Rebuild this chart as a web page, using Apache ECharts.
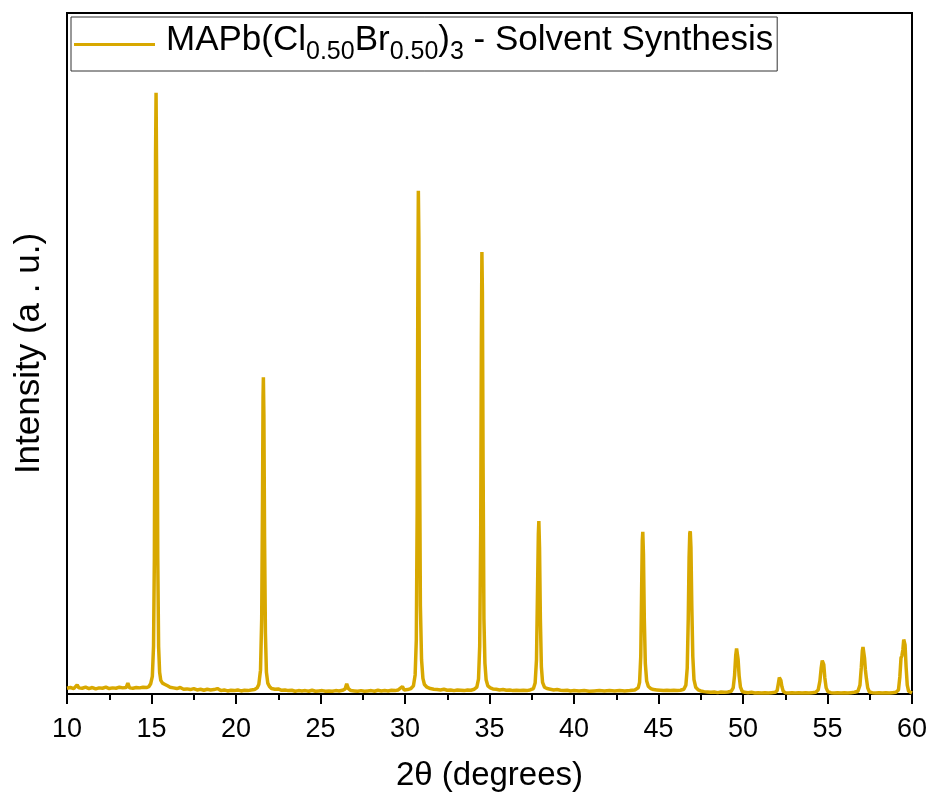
<!DOCTYPE html>
<html>
<head>
<meta charset="utf-8">
<script src="https://cdn.jsdelivr.net/npm/echarts@6/dist/echarts.min.js"></script>
<style>
html,body{margin:0;padding:0;background:#fff;}
#chart{width:935px;height:797px;}
</style>
</head>
<body>
<div id="chart"></div>
<script>
// 2θ positions (degrees) of the measured pattern points
const twoTheta = [
10.0,10.2,10.4,10.6,10.7,10.9,11.1,11.3,11.5,11.7,11.9,12.1,12.3,12.5,12.7,12.9,13.1,13.3,13.5,13.6,13.7,13.9,14.1,14.3,14.5,14.7,14.85,
14.95,15.05,15.12,15.17,15.21,15.24,15.27,15.30,15.33,15.37,15.42,15.48,15.55,15.65,15.8,15.95,16.1,16.3,16.5,16.7,16.9,17.1,17.3,17.5,17.7,17.9,18.1,18.3,18.5,18.7,18.9,19.1,19.3,19.5,19.7,19.9,20.1,20.3,20.5,20.7,20.9,21.1,21.25,
21.35,21.45,21.52,21.57,21.60,21.62,21.65,21.69,21.74,21.8,21.88,21.98,22.1,22.3,22.5,22.7,22.9,23.1,23.3,23.5,23.7,23.9,24.1,24.3,24.5,24.7,24.9,25.1,25.3,25.5,25.7,25.9,26.1,26.3,26.45,26.55,26.65,26.8,27.0,27.2,27.4,27.6,27.8,28.0,28.2,28.4,28.6,28.8,29.0,29.2,29.4,29.6,29.85,29.95,30.15,30.35,30.5,
30.6,30.67,30.72,30.76,30.79,30.82,30.86,30.91,30.98,31.06,31.15,31.3,31.5,31.7,31.9,32.1,32.3,32.5,32.7,32.9,33.1,33.3,33.5,33.7,33.9,34.1,34.25,
34.35,34.42,34.48,34.52,34.55,34.58,34.62,34.67,34.73,34.8,34.9,35.05,35.2,35.4,35.6,35.8,36.0,36.2,36.4,36.6,36.8,37.0,37.2,37.4,37.6,
37.7,37.78,37.84,37.89,37.92,37.96,38.01,38.07,38.14,38.25,38.4,38.6,38.8,39.0,39.2,39.4,39.6,39.8,40.0,40.3,40.6,40.9,41.2,41.5,41.8,42.1,42.4,42.7,43.0,43.3,43.6,43.8,
43.88,43.95,44.0,44.04,44.07,44.11,44.16,44.22,44.3,44.4,44.55,44.7,44.9,45.1,45.3,45.5,45.7,45.9,46.1,46.3,46.5,46.62,
46.7,46.76,46.81,46.85,46.88,46.92,46.97,47.03,47.1,47.2,47.35,47.5,47.7,47.9,48.1,48.3,48.5,48.7,48.9,49.1,49.3,
49.42,49.5,49.57,49.62,49.66,49.71,49.77,49.85,49.95,50.1,50.3,50.5,50.7,50.9,51.1,51.3,51.5,51.7,51.9,52.02,
52.09,52.15,52.19,52.24,52.3,52.38,52.5,52.7,52.9,53.1,53.3,53.5,53.7,53.9,54.1,54.3,54.45,
54.55,54.63,54.69,54.73,54.78,54.84,54.92,55.02,55.2,55.4,55.6,55.8,56.0,56.2,56.4,56.6,56.8,
56.92,57.0,57.06,57.1,57.14,57.19,57.24,57.3,57.38,57.48,57.65,57.85,58.05,58.25,58.45,58.65,58.85,59.05,59.2,
59.28,59.35,59.4,59.46,59.51,59.55,59.59,59.65,59.72,59.8,59.9,60.0
];
// intensity (a.u.)
const intensity = [
0.85,0.95,0.8,1.35,0.9,0.85,1.0,0.8,0.95,0.75,0.9,0.85,1.0,0.8,0.9,0.85,1.0,0.9,0.95,1.6,0.9,0.85,0.95,0.9,1.0,0.95,1.1,
1.5,2.6,7,20,50,79,88.3,77,47,20,7,3.2,2.0,1.6,1.4,1.2,1.0,0.9,0.8,0.95,0.7,0.75,0.65,0.8,0.6,0.7,0.55,0.7,0.6,0.65,0.8,0.5,0.6,0.45,0.55,0.5,0.6,0.45,0.55,0.5,0.6,0.65,0.9,
1.4,3.5,11,29,43.5,46.5,41,23,9,3.2,1.6,1.1,0.8,0.7,0.75,0.55,0.6,0.5,0.55,0.4,0.5,0.45,0.5,0.4,0.55,0.4,0.45,0.5,0.4,0.45,0.4,0.5,0.45,0.55,0.7,1.5,0.8,0.5,0.45,0.4,0.5,0.4,0.45,0.5,0.4,0.55,0.45,0.5,0.45,0.55,0.5,0.6,1.1,0.6,0.65,0.8,1.2,
2.8,8,27,60,73.9,67,37,13,5,2.3,1.4,1.0,0.8,0.7,0.65,0.6,0.7,0.55,0.6,0.5,0.6,0.55,0.5,0.6,0.55,0.7,1.0,
2.2,7,24,52,64.9,59,34,11,4.5,2.1,1.2,0.9,0.75,0.7,0.6,0.65,0.55,0.6,0.5,0.55,0.5,0.55,0.5,0.6,0.8,
1.6,5,15,23.5,25.4,21.5,11,4,1.7,1.0,0.8,0.7,0.6,0.65,0.55,0.5,0.55,0.45,0.5,0.45,0.5,0.4,0.45,0.5,0.45,0.5,0.45,0.5,0.45,0.5,0.6,0.9,
1.7,5.5,15,22.5,23.8,20.5,11,4.5,1.9,1.1,0.8,0.65,0.6,0.55,0.5,0.55,0.5,0.55,0.5,0.55,0.7,1.3,
3.8,11,20,23.6,23.9,21.5,13,5.5,2.1,1.0,0.6,0.45,0.35,0.3,0.25,0.3,0.2,0.3,0.25,0.3,0.4,
0.9,2.7,5.7,6.7,6.5,5.1,2.7,1.0,0.4,0.25,0.2,0.25,0.15,0.2,0.15,0.2,0.15,0.2,0.25,0.5,
1.5,2.4,2.5,2.0,1.1,0.4,0.2,0.15,0.2,0.15,0.2,0.15,0.2,0.15,0.2,0.25,0.6,
1.9,3.9,4.9,5.0,4.3,2.4,0.9,0.35,0.2,0.15,0.2,0.15,0.2,0.15,0.2,0.25,0.4,
1.3,3.9,6.3,6.9,6.8,5.3,3.6,2.3,0.9,0.3,0.2,0.15,0.2,0.15,0.2,0.15,0.2,0.25,0.6,
2.5,5.3,5.6,6.5,8.0,8.2,7.2,4,1.3,0.4,0.2,0.15
];
const xTicks = [10, 15, 20, 25, 30, 35, 40, 45, 50, 55, 60];
const seriesName = 'MAPb(Cl0.50Br0.50)3 - Solvent Synthesis';

const points = twoTheta.map((x, i) => [x, intensity[i]]);
const FONT = '"Liberation Sans", Arial, sans-serif';
const GOLD = '#D8A800';

const chart = echarts.init(document.getElementById('chart'), null, {renderer: 'canvas'});
chart.setOption({
  backgroundColor: '#fff',
  animation: false,
  grid: {
    left: 67, right: 23, top: 13, bottom: 103,
    show: true, borderColor: '#000', borderWidth: 2, backgroundColor: 'transparent'
  },
  legend: {
    show: true,
    data: [seriesName],
    left: 71, top: 17,
    orient: 'vertical',
    icon: 'path://M0,0 L81,0 L81,3 L0,3 Z M0,9 L81,9',
    itemWidth: 81, itemHeight: 9,
    selectedMode: false,
    backgroundColor: '#fff',
    borderColor: '#333', borderWidth: 1, borderRadius: 0,
    padding: [6, 4, 6, 3],
    itemStyle: {color: GOLD, borderWidth: 0},
    formatter: function () {
      return '{m0|MAPb(Cl}{s|0.50}{m|Br}{s|0.50}{m|)}{s|3}{m| - Solvent Synthesis}';
    },
    textStyle: {
      fontFamily: FONT, color: '#000',
      rich: {
        m0: {fontFamily: FONT, fontSize: 35, lineHeight: 35, padding: [0, 0, 7, 6], verticalAlign: 'bottom', color: '#000'},
        m: {fontFamily: FONT, fontSize: 35, lineHeight: 35, padding: [0, 0, 7, 0], verticalAlign: 'bottom', color: '#000'},
        s: {fontFamily: FONT, fontSize: 25, lineHeight: 25, verticalAlign: 'bottom', color: '#000'}
      }
    }
  },
  xAxis: {
    type: 'value',
    min: 10, max: 60, interval: 5,
    name: '2θ (degrees)',
    nameLocation: 'middle',
    nameGap: 65,
    nameTextStyle: {fontFamily: FONT, fontSize: 33, color: '#000'},
    axisLine: {show: true, onZero: false, lineStyle: {color: '#000', width: 2}},
    axisTick: {show: true, inside: false, length: 10, lineStyle: {color: '#000', width: 2}},
    minorTick: {show: true, splitNumber: 2, length: 6, lineStyle: {color: '#000', width: 2}},
    axisLabel: {
      fontFamily: FONT, fontSize: 27, color: '#000', margin: 22,
      formatter: function (v) { return xTicks.indexOf(v) >= 0 ? String(v) : ''; }
    },
    splitLine: {show: false}
  },
  yAxis: {
    type: 'value',
    min: 0, max: 100,
    name: 'Intensity (a . u.)',
    nameLocation: 'middle',
    nameGap: 20,
    nameTextStyle: {fontFamily: FONT, fontSize: 35, color: '#000'},
    axisLine: {show: true, lineStyle: {color: '#000', width: 2}},
    axisTick: {show: false},
    axisLabel: {show: false},
    splitLine: {show: false}
  },
  series: [{
    name: seriesName,
    type: 'line',
    data: points,
    symbol: 'none',
    smooth: false,
    lineStyle: {color: GOLD, width: 3.5},
    itemStyle: {color: GOLD},
    clip: true,
    z: 3
  }]
});
</script>
</body>
</html>
